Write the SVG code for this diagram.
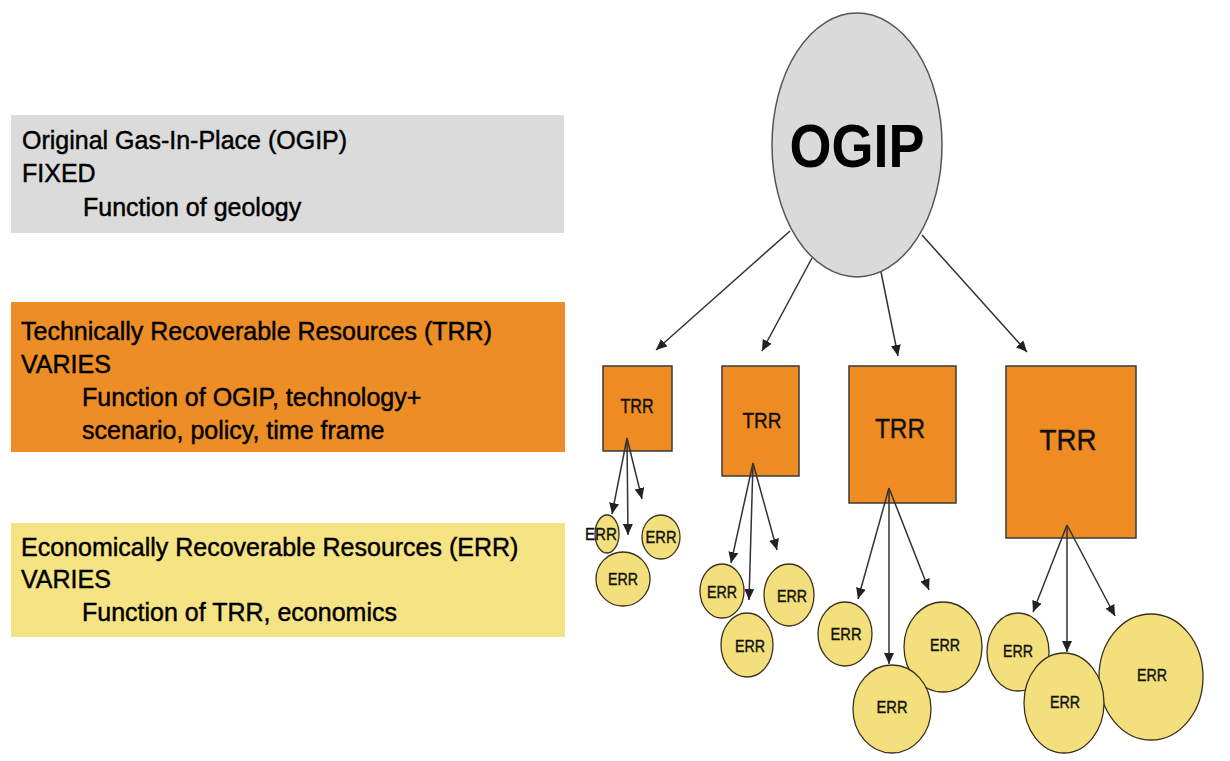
<svg xmlns="http://www.w3.org/2000/svg" width="1230" height="761" viewBox="0 0 1230 761">
<style>
.lbl{font-family:"Liberation Sans",Arial,sans-serif;font-size:25px;fill:#000;stroke:#000;stroke-width:0.45}
.trr{fill:#ee8b22;stroke:#3a3a3a;stroke-width:1.5}
.err{fill:#f3df7c;stroke:#3a3220;stroke-width:1.3}
.nt{font-family:"Liberation Sans",Arial,sans-serif;fill:#111;stroke:#111;stroke-width:0.4;text-anchor:middle}
.c line{stroke:#333;stroke-width:1.5;marker-end:url(#ah)}
</style>
<defs>
<marker id="ah" markerUnits="userSpaceOnUse" markerWidth="12" markerHeight="10" refX="11" refY="5" orient="auto">
<path d="M0,0 L11,5 L0,10 z" fill="#222"/>
</marker>
</defs>
<rect width="1230" height="761" fill="#fff"/>

<g id="legend-ogip">
<rect x="11" y="115" width="553" height="118" fill="#dbdbdb"/>
<text class="lbl" x="22" y="149">Original Gas-In-Place (OGIP)</text>
<text class="lbl" x="22" y="182">FIXED</text>
<text class="lbl" x="83" y="216">Function of geology</text>
</g>
<g id="legend-trr">
<rect x="11" y="302" width="554" height="150" fill="#ed8d25"/>
<text class="lbl" x="21" y="340">Technically Recoverable Resources (TRR)</text>
<text class="lbl" x="21" y="373">VARIES</text>
<text class="lbl" x="82" y="406">Function of OGIP, technology+</text>
<text class="lbl" x="82" y="439">scenario, policy, time frame</text>
</g>
<g id="legend-err">
<rect x="11" y="523" width="554" height="114" fill="#f5e384"/>
<text class="lbl" x="21" y="556">Economically Recoverable Resources (ERR)</text>
<text class="lbl" x="21" y="588">VARIES</text>
<text class="lbl" x="82" y="621">Function of TRR, economics</text>
</g>

<g id="ogip">
<ellipse cx="857" cy="145" rx="85" ry="132" fill="#dadada" stroke="#555" stroke-width="1.5"/>
<text x="857" y="167" font-family="Liberation Sans, Arial, sans-serif" font-weight="bold" font-size="62" fill="#000" text-anchor="middle" textLength="135" lengthAdjust="spacingAndGlyphs">OGIP</text>
</g>

<g id="trr1"><rect class="trr" x="603" y="366" width="69" height="85"/><text class="nt" x="637" y="413" font-size="21" textLength="33" lengthAdjust="spacingAndGlyphs">TRR</text></g>
<g id="trr2"><rect class="trr" x="722" y="366" width="77" height="110"/><text class="nt" x="762" y="428" font-size="22" textLength="39" lengthAdjust="spacingAndGlyphs">TRR</text></g>
<g id="trr3"><rect class="trr" x="849" y="366" width="107" height="137"/><text class="nt" x="900" y="438" font-size="27" textLength="50" lengthAdjust="spacingAndGlyphs">TRR</text></g>
<g id="trr4"><rect class="trr" x="1006" y="366" width="130" height="172"/><text class="nt" x="1068" y="450" font-size="30" textLength="57" lengthAdjust="spacingAndGlyphs">TRR</text></g>

<g id="err1a"><ellipse class="err" cx="607" cy="534" rx="12" ry="19"/><text class="nt" x="601" y="540" font-size="17" textLength="32" lengthAdjust="spacingAndGlyphs">ERR</text></g>
<g id="err1b"><ellipse class="err" cx="661" cy="537" rx="19" ry="22"/><text class="nt" x="661" y="543" font-size="17" textLength="31" lengthAdjust="spacingAndGlyphs">ERR</text></g>
<g id="err1c"><ellipse class="err" cx="623" cy="579" rx="27" ry="27"/><text class="nt" x="623" y="585" font-size="17" textLength="30" lengthAdjust="spacingAndGlyphs">ERR</text></g>

<g id="err2a"><ellipse class="err" cx="722" cy="591" rx="22" ry="27"/><text class="nt" x="722" y="598" font-size="17" textLength="30" lengthAdjust="spacingAndGlyphs">ERR</text></g>
<g id="err2b"><ellipse class="err" cx="789" cy="595" rx="25" ry="31"/><text class="nt" x="792" y="602" font-size="17" textLength="30" lengthAdjust="spacingAndGlyphs">ERR</text></g>
<g id="err2c"><ellipse class="err" cx="747" cy="645" rx="26" ry="32"/><text class="nt" x="750" y="652" font-size="17" textLength="30" lengthAdjust="spacingAndGlyphs">ERR</text></g>

<g id="err3a"><ellipse class="err" cx="845" cy="634" rx="27" ry="32"/><text class="nt" x="846" y="640" font-size="17" textLength="31" lengthAdjust="spacingAndGlyphs">ERR</text></g>
<g id="err3b"><ellipse class="err" cx="943" cy="647" rx="39" ry="45"/><text class="nt" x="945" y="651" font-size="17" textLength="30" lengthAdjust="spacingAndGlyphs">ERR</text></g>
<g id="err3c"><ellipse class="err" cx="892" cy="709" rx="39" ry="44"/><text class="nt" x="892" y="713" font-size="17" textLength="31" lengthAdjust="spacingAndGlyphs">ERR</text></g>

<g id="err4a"><ellipse class="err" cx="1018" cy="652" rx="31" ry="39"/><text class="nt" x="1018" y="657" font-size="17" textLength="30" lengthAdjust="spacingAndGlyphs">ERR</text></g>
<g id="err4c"><ellipse class="err" cx="1151" cy="677" rx="52" ry="63"/><text class="nt" x="1152" y="681" font-size="17" textLength="30" lengthAdjust="spacingAndGlyphs">ERR</text></g>
<g id="err4b"><ellipse class="err" cx="1064" cy="703" rx="40" ry="50"/><text class="nt" x="1065" y="708" font-size="17" textLength="30" lengthAdjust="spacingAndGlyphs">ERR</text></g>

<g id="connectors" class="c">
<line x1="790" y1="231" x2="656" y2="350"/>
<line x1="812" y1="258" x2="762" y2="351"/>
<line x1="881" y1="272" x2="898" y2="356"/>
<line x1="922" y1="235" x2="1027" y2="352"/>

<line x1="627" y1="438" x2="612" y2="514"/>
<line x1="627" y1="438" x2="628" y2="535"/>
<line x1="627" y1="438" x2="642" y2="499"/>

<line x1="753" y1="463" x2="731" y2="563"/>
<line x1="753" y1="463" x2="749" y2="600"/>
<line x1="753" y1="463" x2="777" y2="550"/>

<line x1="889" y1="488" x2="858" y2="599"/>
<line x1="889" y1="488" x2="889" y2="664"/>
<line x1="889" y1="488" x2="929" y2="590"/>

<line x1="1067" y1="525" x2="1033" y2="612"/>
<line x1="1067" y1="525" x2="1067" y2="652"/>
<line x1="1067" y1="525" x2="1115" y2="616"/>
</g>
</svg>
